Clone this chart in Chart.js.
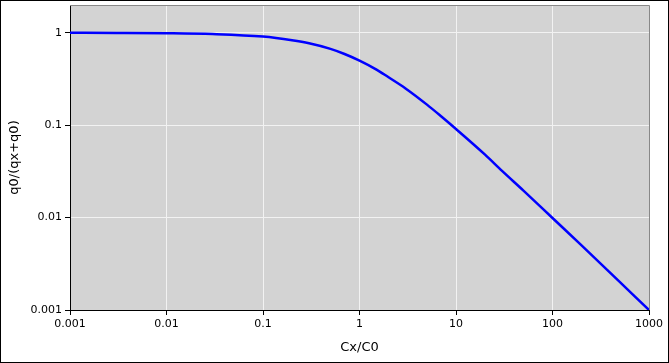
<!DOCTYPE html>
<html lang="en">
  <head>
    <meta charset="UTF-8" />
    <script src="https://cdn.jsdelivr.net/npm/chart.js@4/dist/chart.umd.min.js"></script>
    <title>q0/(qx+q0)</title>
    <style>
      body { margin: 0; background: #fff; }
    </style>
  </head>
  <body>
    <canvas id="chart" width="669" height="363"></canvas>
    <script>
      // values
      const cxC0 = [0.001, 0.003, 0.01, 0.03, 0.1, 0.2, 0.3, 0.5, 0.7, 1, 1.5, 2, 3, 5, 7, 10, 20, 30, 50, 100, 200, 500, 1000];
      const ratio = [0.999, 0.997, 0.99, 0.97, 0.91, 0.83, 0.77, 0.67, 0.59, 0.5, 0.4, 0.33, 0.25, 0.167, 0.125, 0.091, 0.048, 0.032, 0.0196, 0.0099, 0.005, 0.002, 0.001];
      const xTicks = [0.001, 0.01, 0.1, 1, 10, 100, 1000];
      const yTicks = [0.001, 0.01, 0.1, 1];

      const frame = {
        id: "frame",
        beforeDraw(chart) {
          const { ctx, chartArea: a } = chart;
          ctx.save();
          ctx.fillStyle = "#d3d3d3";
          ctx.fillRect(a.left, a.top, a.right - a.left, a.bottom - a.top);
          ctx.restore();
        },
        afterDraw(chart) {
          const { ctx, chartArea: a } = chart;
          ctx.save();
          ctx.strokeStyle = "#888";
          ctx.lineWidth = 1;
          ctx.beginPath();
          ctx.moveTo(a.left, a.top + 0.5);
          ctx.lineTo(a.right + 0.5, a.top + 0.5);
          ctx.lineTo(a.right + 0.5, a.bottom);
          ctx.stroke();
          ctx.strokeStyle = "#000";
          ctx.strokeRect(0.5, 0.5, chart.width - 1, chart.height - 1);
          ctx.restore();
        },
      };

      new Chart(document.getElementById("chart"), {
        type: "line",
        data: {
          datasets: [
            {
              data: cxC0.map((x, i) => ({ x: x, y: ratio[i] })),
              borderColor: "#0000ff",
              borderWidth: 2.5,
              pointRadius: 0,
              cubicInterpolationMode: "monotone",
            },
          ],
        },
        options: {
          responsive: false,
          animation: false,
          layout: { padding: { top: 5, right: 20, left: 0, bottom: 0 } },
          plugins: { legend: { display: false }, tooltip: { enabled: false } },
          scales: {
            x: {
              type: "logarithmic",
              min: 0.001,
              max: 1000,
              afterBuildTicks: (s) => { s.ticks = xTicks.map((v) => ({ value: v })); },
              afterFit: (s) => { s.height = 53; },
              grid: { color: "#f2f2f2", tickColor: "#000", tickLength: 5 },
              border: { color: "#000" },
              ticks: {
                color: "#000",
                font: { family: "DejaVu Sans", size: 11 },
                padding: 3,
                maxRotation: 0,
                callback: (v) => String(v),
              },
              title: {
                display: true,
                text: "Cx/C0",
                color: "#000",
                font: { family: "DejaVu Sans", size: 13 },
                padding: { top: 4, bottom: 8 },
              },
            },
            y: {
              type: "logarithmic",
              min: 0.001,
              max: 2,
              afterBuildTicks: (s) => { s.ticks = yTicks.map((v) => ({ value: v })); },
              afterFit: (s) => {
                s.width = 70;
                s.paddingTop = 0;
                s.paddingBottom = 0;
              },
              grid: { color: "#f2f2f2", tickColor: "#000", tickLength: 5 },
              border: { color: "#000" },
              ticks: {
                color: "#000",
                font: { family: "DejaVu Sans", size: 11 },
                padding: 3,
                callback: (v) => String(v),
              },
              title: {
                display: true,
                text: "q0/(qx+q0)",
                color: "#000",
                font: { family: "DejaVu Sans", size: 13 },
                padding: { top: 7, bottom: 0 },
              },
            },
          },
        },
        plugins: [frame],
      });
    </script>
  </body>
</html>
